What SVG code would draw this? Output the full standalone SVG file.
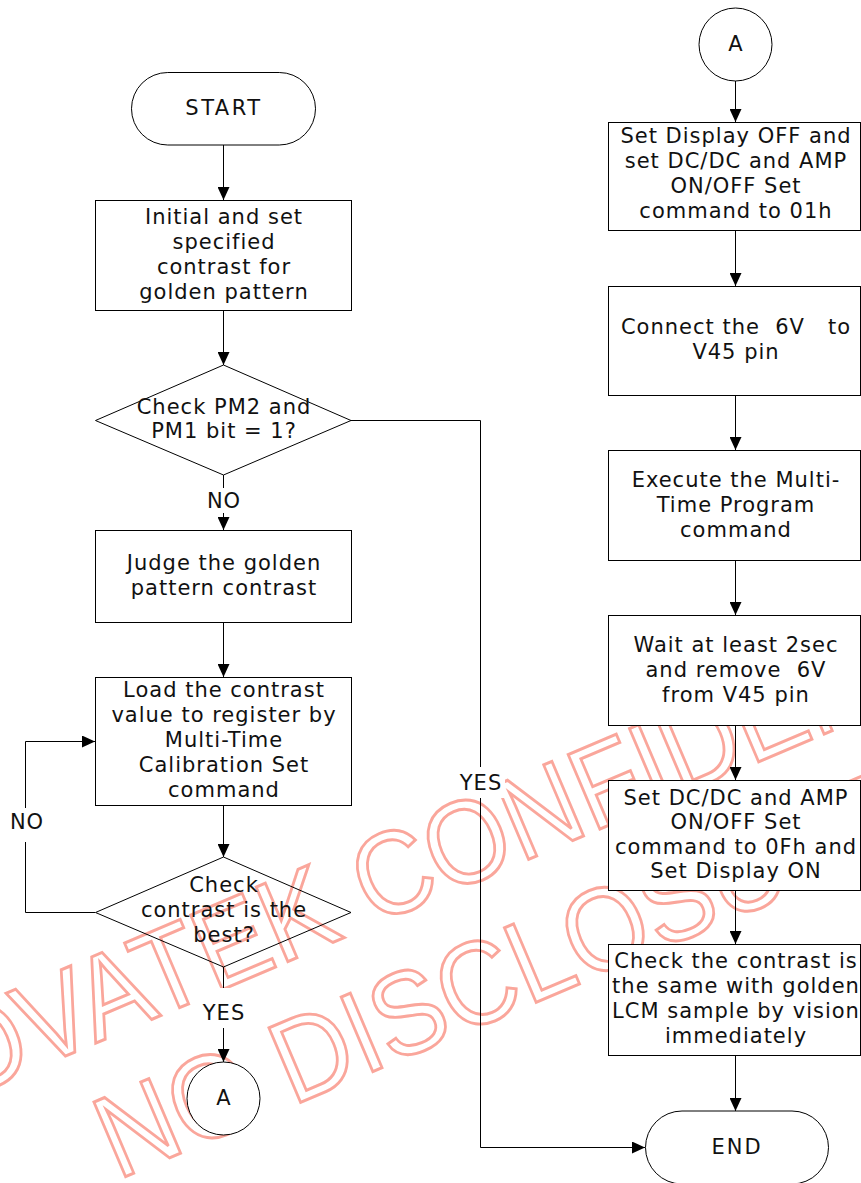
<svg xmlns="http://www.w3.org/2000/svg" width="861" height="1183" viewBox="0 0 861 1183">
<style>
.n{fill:#fff;stroke:#000;stroke-width:1}
.d{fill:none;stroke:#000;stroke-width:1}
.t{font-family:"DejaVu Sans",Verdana,sans-serif;font-size:21px;letter-spacing:1px;text-anchor:middle;fill:#111}
.c{fill:none;stroke:#000;stroke-width:1}
.a{marker-end:url(#ah)}
.wm{font-family:"Liberation Sans",Arial,sans-serif;font-size:107px;fill:none;stroke:#FAA69B;stroke-width:2.7}
.lb{fill:#fff}
</style>
<defs>
<marker id="ah" markerUnits="userSpaceOnUse" markerWidth="13" markerHeight="12" refX="13" refY="6" orient="auto"><path d="M0,0 L13,6 L0,12 z" fill="#000"/></marker>
</defs>
<rect width="861" height="1183" fill="#fff"/>
<g id="watermark">
<text class="wm" transform="translate(-110.5,1130.7) rotate(-23) scale(1,1.1)">NOVATEK CONFIDENTIAL</text>
<text class="wm" transform="translate(117.5,1180) rotate(-23) scale(1,1.1)">NO DISCLOSURE</text>
</g>
<g id="connectors">
<path class="c a" d="M223.5,145 V200"/>
<path class="c a" d="M223.5,310 V365"/>
<path class="c a" d="M223.5,475 V530"/>
<path class="c a" d="M223.5,622 V677"/>
<path class="c a" d="M223.5,805 V857"/>
<path class="c a" d="M223.5,967 V1062"/>
<path class="c a" d="M95,912.5 H25.5 V741.5 H95"/>
<path class="c a" d="M351,420.5 H480.5 V1147.5 H645"/>
<path class="c a" d="M735.5,81 V122"/>
<path class="c a" d="M735.5,230 V286"/>
<path class="c a" d="M735.5,395 V450"/>
<path class="c a" d="M735.5,560 V615"/>
<path class="c a" d="M735.5,725 V780"/>
<path class="c a" d="M735.5,890 V944"/>
<path class="c a" d="M735.5,1055 V1111"/>
<rect class="lb" x="208" y="488" width="31" height="25"/>
<text class="t" x="224" y="508">NO</text>
<rect class="lb" x="8" y="808" width="38" height="34"/>
<text class="t" x="27" y="829">NO</text>
<rect class="lb" x="456" y="767" width="49" height="31"/>
<text class="t" x="481" y="790">YES</text>
<rect class="lb" x="198" y="988" width="51" height="40"/>
<text class="t" x="224" y="1020">YES</text>
</g>
<g id="start">
<rect class="n" x="131.5" y="72.5" width="184" height="72.5" rx="36.25"/>
<text class="t" x="224" y="115" style="letter-spacing:2.5px">START</text>
</g>
<g id="init">
<rect class="n" x="95.5" y="200.5" width="256" height="110"/>
<text class="t" x="224" y="224">Initial and set</text>
<text class="t" x="224" y="249">specified</text>
<text class="t" x="224" y="274">contrast for</text>
<text class="t" x="224" y="299">golden pattern</text>
</g>
<g id="checkPM">
<polygon class="d" points="223.5,365 351,420.5 223.5,475 95.5,420.5"/>
<text class="t" x="224" y="414">Check PM2 and</text>
<text class="t" x="224" y="438">PM1 bit = 1?</text>
</g>
<g id="judge">
<rect class="n" x="95.5" y="530.5" width="256" height="92"/>
<text class="t" x="224" y="570">Judge the golden</text>
<text class="t" x="224" y="595">pattern contrast</text>
</g>
<g id="load">
<rect class="n" x="95.5" y="677.5" width="256" height="128"/>
<text class="t" x="224" y="697">Load the contrast</text>
<text class="t" x="224" y="722">value to register by</text>
<text class="t" x="224" y="747">Multi-Time</text>
<text class="t" x="224" y="772">Calibration Set</text>
<text class="t" x="224" y="797">command</text>
</g>
<g id="checkBest">
<polygon class="d" points="223.5,857 351,912.5 223.5,967 95.5,912.5"/>
<text class="t" x="224" y="892">Check</text>
<text class="t" x="224" y="917">contrast is the</text>
<text class="t" x="224" y="942">best?</text>
</g>
<g id="connA1">
<circle class="n" cx="223.5" cy="1098.5" r="36.5"/>
<text class="t" x="224" y="1105">A</text>
</g>
<g id="connA2">
<circle class="n" cx="735.5" cy="44.5" r="36.5"/>
<text class="t" x="736" y="51">A</text>
</g>
<g id="displayOff">
<rect class="n" x="608.5" y="122.5" width="252" height="108"/>
<text class="t" x="736" y="143">Set Display OFF and</text>
<text class="t" x="736" y="168">set DC/DC and AMP</text>
<text class="t" x="736" y="193">ON/OFF Set</text>
<text class="t" x="736" y="218">command to 01h</text>
</g>
<g id="connect6v">
<rect class="n" x="608.5" y="286.5" width="252" height="109"/>
<text class="t" x="736" y="334" xml:space="preserve" style="white-space:pre">Connect the  6V   to</text>
<text class="t" x="736" y="359">V45 pin</text>
</g>
<g id="execute">
<rect class="n" x="608.5" y="450.5" width="252" height="110"/>
<text class="t" x="736" y="487">Execute the Multi-</text>
<text class="t" x="736" y="512">Time Program</text>
<text class="t" x="736" y="537">command</text>
</g>
<g id="wait">
<rect class="n" x="608.5" y="615.5" width="252" height="110"/>
<text class="t" x="736" y="652">Wait at least 2sec</text>
<text class="t" x="736" y="677" xml:space="preserve" style="white-space:pre">and remove  6V</text>
<text class="t" x="736" y="702">from V45 pin</text>
</g>
<g id="displayOn">
<rect class="n" x="608.5" y="780.5" width="252" height="110"/>
<text class="t" x="736" y="805">Set DC/DC and AMP</text>
<text class="t" x="736" y="829">ON/OFF Set</text>
<text class="t" x="736" y="854">command to 0Fh and</text>
<text class="t" x="736" y="878">Set Display ON</text>
</g>
<g id="checkContrast">
<rect class="n" x="608.5" y="944.5" width="252" height="111"/>
<text class="t" x="736" y="968">Check the contrast is</text>
<text class="t" x="736" y="993">the same with golden</text>
<text class="t" x="736" y="1018">LCM sample by vision</text>
<text class="t" x="736" y="1043">immediately</text>
</g>
<g id="end">
<rect class="n" x="645.5" y="1111" width="183" height="73" rx="36.5"/>
<text class="t" x="737" y="1154" style="letter-spacing:2px">END</text>
</g>
</svg>
